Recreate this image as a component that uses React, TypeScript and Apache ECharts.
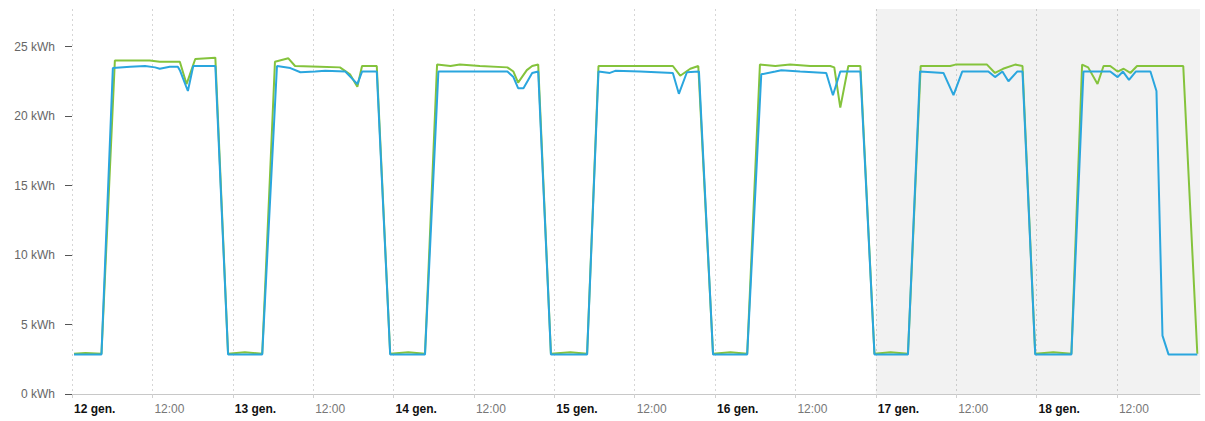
import { useEffect, useRef } from 'react';
import * as echarts from 'echarts';

// x values are hours since 12 gen. 00:00
const dayLabels = ['12 gen.', '13 gen.', '14 gen.', '15 gen.', '16 gen.', '17 gen.', '18 gen.'];
const noonLabel = '12:00';
const yTickValues = [0, 5, 10, 15, 20, 25];
const xTickValues = [0, 12, 24, 36, 48, 60, 72, 84, 96, 108, 120, 132, 144, 156];
const unit = 'kWh';
const shadedFromHour = 120;
const xMax = 168.4;
const yMax = 27.7;

const greenData: [number, number][] = [
  [0.3, 2.9], [2.0, 2.95], [4.4, 2.9], [6.4, 24.0], [11.6, 24.0], [13.1, 23.9], [16.1, 23.9],
  [17.1, 22.3], [18.4, 24.1], [21.4, 24.2], [23.3, 2.9],
  [25.8, 3.0], [28.4, 2.9], [30.3, 23.9], [32.3, 24.15], [33.3, 23.6], [37.0, 23.55], [40.0, 23.5],
  [41.5, 23.0], [42.6, 22.1], [43.3, 23.6], [45.5, 23.6], [47.5, 2.9],
  [50.2, 3.0], [52.7, 2.9], [54.5, 23.7], [56.5, 23.6], [57.9, 23.7], [60.9, 23.6], [65.0, 23.5],
  [65.9, 23.2], [66.6, 22.4], [67.9, 23.3], [68.7, 23.6], [69.6, 23.7], [71.5, 2.9],
  [74.4, 3.0], [76.9, 2.9], [78.6, 23.6], [84.8, 23.6], [89.7, 23.6], [90.8, 22.9], [92.3, 23.4],
  [93.5, 23.6], [95.7, 2.9],
  [98.3, 3.0], [100.8, 2.9], [102.7, 23.7], [105.0, 23.6], [107.2, 23.7], [110.2, 23.6], [113.2, 23.6],
  [113.8, 23.5], [114.7, 20.6], [115.9, 23.6], [117.7, 23.6], [119.8, 2.9],
  [122.2, 3.0], [124.8, 2.9], [126.7, 23.6], [131.1, 23.6], [131.9, 23.7], [136.6, 23.7], [137.8, 23.1],
  [139.0, 23.4], [140.8, 23.7], [141.9, 23.6], [143.8, 2.9],
  [146.5, 3.0], [149.2, 2.9], [150.8, 23.7], [151.7, 23.5], [153.1, 22.3], [154.0, 23.6], [155.0, 23.6],
  [156.1, 23.2], [157.0, 23.4], [158.0, 23.1], [159.0, 23.6], [162.4, 23.6], [165.9, 23.6], [168.0, 2.9],
];

const blueData: [number, number][] = [
  [0.3, 2.85], [4.4, 2.85], [6.1, 23.45], [8.7, 23.55], [10.9, 23.6], [12.4, 23.5], [13.1, 23.4],
  [14.6, 23.55], [15.8, 23.55], [16.1, 23.3], [17.3, 21.8], [18.1, 23.6], [21.4, 23.6], [23.3, 2.85],
  [28.4, 2.85], [30.6, 23.6], [32.6, 23.45], [34.1, 23.15], [36.3, 23.2], [37.8, 23.25], [40.8, 23.2],
  [42.0, 22.6], [42.6, 22.3], [43.3, 23.2], [45.5, 23.2], [47.5, 2.85],
  [52.7, 2.85], [54.7, 23.2], [65.0, 23.2], [65.9, 22.8], [66.6, 22.0], [67.4, 22.0], [68.7, 23.1],
  [69.6, 23.2], [71.5, 2.85],
  [76.9, 2.85], [78.6, 23.2], [80.3, 23.1], [81.1, 23.25], [84.8, 23.2], [89.7, 23.1], [90.6, 21.6],
  [91.8, 23.15], [93.6, 23.2], [95.7, 2.85],
  [100.8, 2.85], [102.9, 23.0], [105.0, 23.2], [105.9, 23.3], [108.7, 23.2], [112.6, 23.1], [113.6, 21.5],
  [114.7, 23.2], [117.7, 23.2], [119.8, 2.85],
  [124.8, 2.85], [126.6, 23.2], [130.1, 23.1], [131.6, 21.5], [132.9, 23.2], [136.8, 23.2], [137.8, 22.8],
  [138.9, 23.2], [139.8, 22.5], [141.1, 23.2], [141.9, 23.2], [143.8, 2.85],
  [149.2, 2.85], [151.0, 23.2], [155.0, 23.2], [156.1, 22.8], [156.9, 23.2], [157.8, 22.6], [158.8, 23.2],
  [161.0, 23.2], [161.9, 21.8], [162.8, 4.2], [163.7, 2.85], [168.0, 2.85],
];

export default function App() {
  const ref = useRef<HTMLDivElement>(null);
  useEffect(() => {
    document.body.style.margin = '0';
    const chart = echarts.init(ref.current!, undefined, { renderer: 'svg' });
    chart.setOption({
      animation: false,
      backgroundColor: '#ffffff',
      grid: { left: 72, right: 5, top: 9, bottom: 27, containLabel: false },
      xAxis: {
        type: 'value',
        min: 0,
        max: xMax,
        interval: 12,
        axisLine: { show: true, lineStyle: { color: '#c8c8c8', width: 1 } },
        axisTick: {
          show: true,
          length: 4,
          lineStyle: { color: '#d0d0d0' },
          customValues: xTickValues,
        },
        axisLabel: {
          customValues: xTickValues,
          align: 'left',
          margin: 9,
          padding: [0, 0, 0, 2],
          fontFamily: 'Liberation Sans, Arial, sans-serif',
          fontSize: 12,
          color: '#777',
          formatter: (v: number) => {
            if (Math.abs(v % 24) < 1e-6) {
              const i = Math.round(v / 24);
              return dayLabels[i] ? `{b|${dayLabels[i]}}` : '';
            }
            if (Math.abs(v % 12) < 1e-6) return noonLabel;
            return '';
          },
          rich: {
            b: { fontWeight: 'bold', color: '#111', fontSize: 12, fontFamily: 'Liberation Sans, Arial, sans-serif' },
          },
        },
        splitLine: { show: true, lineStyle: { color: '#d6d6d6', type: [2, 3], width: 1 } },
      },
      yAxis: {
        type: 'value',
        min: 0,
        max: yMax,
        interval: 5,
        axisLine: { show: false },
        axisTick: { show: true, length: 7, lineStyle: { color: '#555' }, customValues: yTickValues },
        axisLabel: {
          customValues: yTickValues,
          margin: 17,
          fontFamily: 'Liberation Sans, Arial, sans-serif',
          fontSize: 12,
          color: '#666',
          formatter: (v: number) => `${v} ${unit}`,
        },
        splitLine: { show: false },
      },
      series: [
        {
          type: 'line',
          data: greenData,
          showSymbol: false,
          color: '#84c33c',
          lineStyle: { width: 2, color: '#84c33c' },
          z: 2,
          markArea: {
            silent: true,
            itemStyle: { color: 'rgba(0,0,0,0.05)' },
            data: [[{ xAxis: shadedFromHour }, { xAxis: xMax }]],
          },
        },
        {
          type: 'line',
          data: blueData,
          showSymbol: false,
          color: '#2aa6de',
          lineStyle: { width: 2, color: '#2aa6de' },
          z: 3,
        },
      ],
    });
    return () => chart.dispose();
  }, []);
  return <div ref={ref} style={{ width: 1205, height: 421 }} />;
}
